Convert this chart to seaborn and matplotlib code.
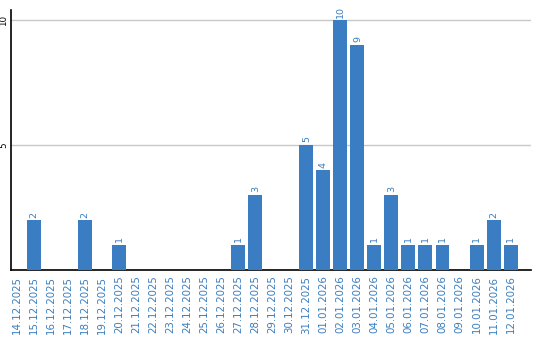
import matplotlib
matplotlib.use("Agg")
import matplotlib.pyplot as plt
import seaborn as sns
import pandas as pd

dates = ["14.12.2025", "15.12.2025", "16.12.2025", "17.12.2025", "18.12.2025",
         "19.12.2025", "20.12.2025", "21.12.2025", "22.12.2025", "23.12.2025",
         "24.12.2025", "25.12.2025", "26.12.2025", "27.12.2025", "28.12.2025",
         "29.12.2025", "30.12.2025", "31.12.2025", "01.01.2026", "02.01.2026",
         "03.01.2026", "04.01.2026", "05.01.2026", "06.01.2026", "07.01.2026",
         "08.01.2026", "09.01.2026", "10.01.2026", "11.01.2026", "12.01.2026"]
values = [0, 2, 0, 0, 2, 0, 1, 0, 0, 0, 0, 0, 0, 1, 3,
          0, 0, 5, 4, 10, 9, 1, 3, 1, 1, 1, 0, 1, 2, 1]
yticks = [5, 10]

BLUE = "#3a7dc2"
TEXT_BLUE = "#3a7ebf"

sns.set_style("white")
plt.rcParams['font.family'] = ['DejaVu Sans']

df = pd.DataFrame({"date": dates, "value": values})

fig = plt.figure(figsize=(5.4, 3.4), dpi=100)
ax = fig.add_axes([11/540, 1 - 270/340, (531 - 11)/540, (270 - 10)/340])

sns.barplot(data=df, x="date", y="value", color=BLUE, width=0.82,
            saturation=1, linewidth=0, ax=ax, zorder=3)

for i, v in enumerate(values):
    if v > 0:
        ax.text(i, v + 0.1, str(v), rotation=90, ha="center", va="bottom",
                color=TEXT_BLUE, fontsize=6.8, zorder=4)

ax.set_xlim(-0.35, 30.2)
ax.set_ylim(0, 10.4)
ax.set_yticks(yticks)
ax.set_yticklabels([str(t) for t in yticks], rotation=90, va="center",
                   fontsize=6.3, color="black")
ax.yaxis.grid(True, color="#c8c8c8", linewidth=1, zorder=0)
ax.xaxis.grid(False)
ax.tick_params(axis="y", length=0, pad=2)
ax.tick_params(axis="x", length=0, pad=4, labelrotation=90)
for lbl in ax.get_xticklabels():
    lbl.set_color(TEXT_BLUE)
    lbl.set_fontsize(7.4)
ax.set_xlabel("")
ax.set_ylabel("")
for s in ["top", "right"]:
    ax.spines[s].set_visible(False)
for s in ["left", "bottom"]:
    ax.spines[s].set_color("black")
    ax.spines[s].set_linewidth(1.2)

fig.savefig("out.png", dpi=100)
